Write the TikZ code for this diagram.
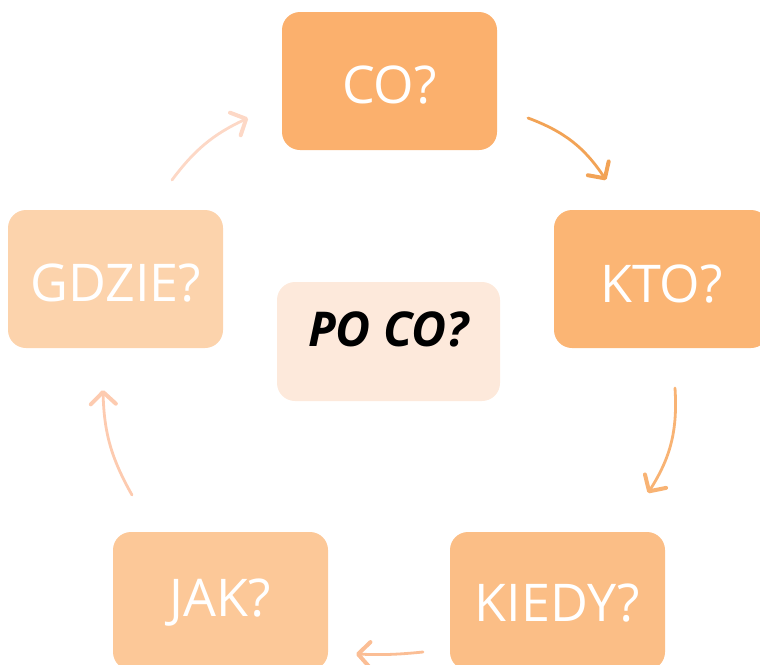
\documentclass[tikz,border=0pt]{standalone}
\usepackage{fontspec}
\setmainfont{Open Sans}
\usetikzlibrary{positioning,arrows.meta}

\definecolor{coFill}{HTML}{FBB06D}
\definecolor{ktoFill}{HTML}{FBB574}
\definecolor{kiedyFill}{HTML}{FBBE86}
\definecolor{jakFill}{HTML}{FCC898}
\definecolor{gdzieFill}{HTML}{FCD3AC}
\definecolor{pocoFill}{HTML}{FDE9DB}
\definecolor{arrA}{HTML}{F2A356}
\definecolor{arrB}{HTML}{F8B374}
\definecolor{arrC}{HTML}{FBBE95}
\definecolor{arrD}{HTML}{FDCBB0}
\definecolor{arrE}{HTML}{FDD8C6}

\newcommand{\qtext}[2][-4pt]{\raisebox{#1}[\height][\depth]{#2}}

\tikzset{
  qbox/.style={rounded corners=18pt, minimum width=215pt, minimum height=138pt,
    inner sep=0pt, text=white, font=\fontsize{52}{52}\selectfont},
  qarrow/.style={line width=2.8pt, line cap=round,
    -{Straight Barb[length=12pt, width=25pt, line width=4pt, line cap=round, round]}}
}

\begin{document}
\begin{tikzpicture}[x=1pt,y=1pt]
  \useasboundingbox (0,0) rectangle (760,-664);

  % question boxes
  \node[qbox, fill=coFill]    (co)    at (389.5,-81)  {\qtext{CO?}};
  \node[qbox, fill=ktoFill]   (kto)   at (661.5,-279) {\qtext[-5pt]{KTO?}};
  \node[qbox, fill=kiedyFill] (kiedy) at (557.5,-601) {\qtext[-2pt]{KIEDY?}};
  \node[qbox, fill=jakFill]   (jak)   at (220.5,-601) {\qtext[-2pt]{JAK?}};
  \node[qbox, fill=gdzieFill] (gdzie) at (115.5,-279) {\qtext{GDZIE?}};

  % centre box
  \node[qbox, fill=pocoFill, minimum width=223pt, minimum height=119pt,
    text=black, font=\fontsize{48}{48}\selectfont\bfseries\itshape] (poco) at (388.5,-341.5) {\qtext[12pt]{PO CO?}};

  % arrow ends
  \coordinate (a1) at (528,-118);  \coordinate (b1) at (606,-180);
  \coordinate (a2) at (675,-388);  \coordinate (b2) at (648,-493);
  \coordinate (a3) at (423,-652);  \coordinate (b3) at (356,-654);
  \coordinate (a4) at (132,-495);  \coordinate (b4) at (103,-390);
  \coordinate (a5) at (172,-180);  \coordinate (b5) at (248,-118);

  % cycle arrows
  \draw[qarrow, arrA] (a1) to[bend left=18] (b1);
  \draw[qarrow, arrB] (a2) to[bend left=18] (b2);
  \draw[qarrow, arrC] (a3) to[bend left=4]  (b3);
  \draw[qarrow, arrD] (a4) to[bend left=14] (b4);
  \draw[qarrow, arrE] (a5) to[bend left=14] (b5);
\end{tikzpicture}
\end{document}
